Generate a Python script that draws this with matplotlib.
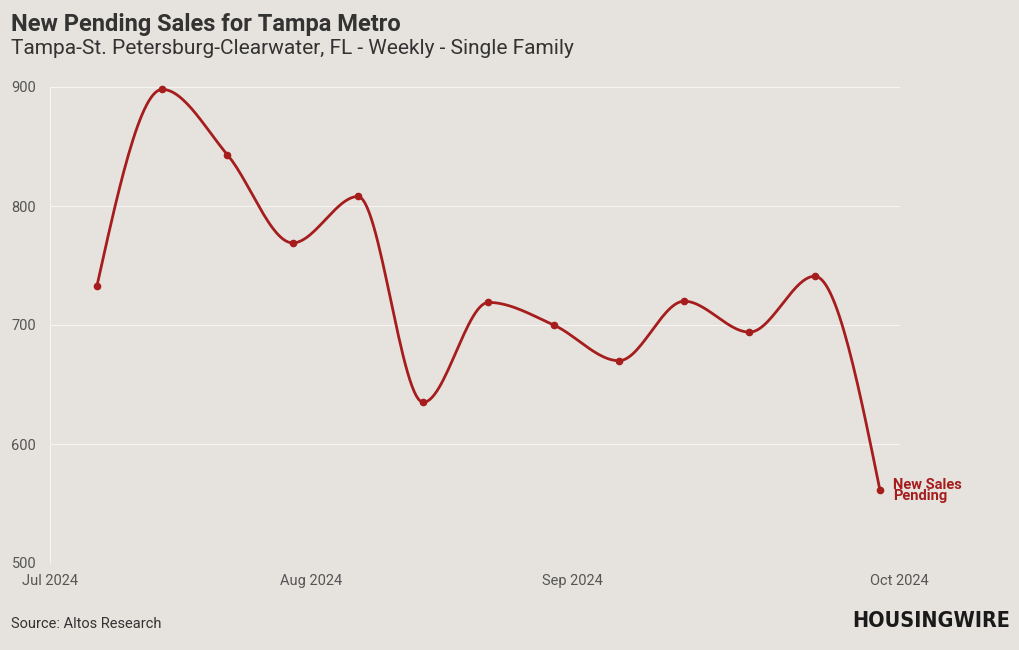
import numpy as np
import matplotlib.pyplot as plt

# weekly new pending sales, Tampa metro (single family)
weeks = ['2024-07-06', '2024-07-13', '2024-07-20', '2024-07-27', '2024-08-03',
         '2024-08-10', '2024-08-17', '2024-08-24', '2024-08-31', '2024-09-07',
         '2024-09-14', '2024-09-21', '2024-09-28']
pending = [733, 898, 843, 769, 808, 635, 719, 700, 670, 720, 694, 741, 561]

month_labels = ['Jul 2024', 'Aug 2024', 'Sep 2024', 'Oct 2024']
month_pos = [-0.72, 3.28, 7.28, 12.29]   # in week-index units
y_ticks = [500, 600, 700, 800, 900]

BG = '#e6e3de'
RED = '#a51d1d'
TXT = '#333333'


def monotone_x(x, y, n=30):
    # same idea as d3.curveMonotoneX, just for drawing the smooth line
    x = np.asarray(x, float)
    y = np.asarray(y, float)
    h = np.diff(x)
    s = np.diff(y) / h
    t = np.zeros(len(x))
    for i in range(1, len(x) - 1):
        p = (s[i-1]*h[i] + s[i]*h[i-1]) / (h[i-1] + h[i])
        t[i] = (np.sign(s[i-1]) + np.sign(s[i])) * min(abs(s[i-1]), abs(s[i]), 0.5*abs(p))
    t[0] = (3*s[0] - t[1]) / 2
    t[-1] = (3*s[-1] - t[-2]) / 2
    xs, ys = [], []
    u = np.linspace(0, 1, n)
    for i in range(len(x) - 1):
        dx = h[i]
        p0, p3 = np.array([x[i], y[i]]), np.array([x[i+1], y[i+1]])
        p1 = p0 + np.array([dx/3, dx*t[i]/3])
        p2 = p3 - np.array([dx/3, dx*t[i+1]/3])
        b = ((1-u)**3)[:, None]*p0 + (3*(1-u)**2*u)[:, None]*p1 + \
            (3*(1-u)*u**2)[:, None]*p2 + (u**3)[:, None]*p3
        xs.extend(b[:, 0]); ys.extend(b[:, 1])
    return np.array(xs), np.array(ys)


plt.rcParams['font.family'] = ['Roboto', 'DejaVu Sans']

fig = plt.figure(figsize=(10.2, 6.5), dpi=100, facecolor=BG)
ax = fig.add_axes([50/1020, 87/650, 850/1020, 476/650], facecolor=BG)

xi = np.arange(len(pending))
sx, sy = monotone_x(xi, pending)
ax.plot(sx, sy, color=RED, lw=2.0, clip_on=False, zorder=3, solid_capstyle='round')
ax.plot(xi, pending, 'o', color=RED, ms=4.5, clip_on=False, zorder=4)

ax.annotate('New Sales\nPending', xy=(xi[-1], pending[-1]), xytext=(9.5, 0),
            textcoords='offset points', ha='left', va='center',
            color=RED, fontsize=10.5, fontweight='bold', linespacing=0.8)

ax.set_xlim(month_pos[0], (900-97)/65.25)
ax.set_ylim(500, 900)
ax.set_yticks(y_ticks)
ax.set_xticks(month_pos)
ax.set_xticklabels(month_labels)
ax.grid(axis='y', color='#f7f6f4', lw=0.7)
ax.set_axisbelow(True)
for sp in ['top', 'right', 'bottom']:
    ax.spines[sp].set_visible(False)
ax.spines['left'].set_color('#f7f6f4')
ax.spines['left'].set_linewidth(0.7)
ax.tick_params(axis='both', length=0, colors='#555555', labelsize=10.5)
ax.tick_params(axis='y', pad=10)
ax.tick_params(axis='x', pad=8)

fig.text(11/1020, 1 - 24/650, 'New Pending Sales for Tampa Metro', fontsize=17,
         fontweight='bold', color=TXT, va='center', ha='left')
fig.text(11/1020, 1 - 49/650, 'Tampa-St. Petersburg-Clearwater, FL - Weekly - Single Family',
         fontsize=15, color=TXT, va='center', ha='left')
fig.text(11/1020, 1 - 624/650, 'Source: Altos Research', fontsize=10.5,
         color=TXT, va='center', ha='left')
fig.text(1010/1020, 1 - 621/650, 'HOUSINGWIRE', fontsize=15.5, fontweight='heavy',
         family='DejaVu Sans', fontstretch='condensed', color='#1a1a1a',
         va='center', ha='right')

fig.savefig('out.png', dpi=100, facecolor=BG)
